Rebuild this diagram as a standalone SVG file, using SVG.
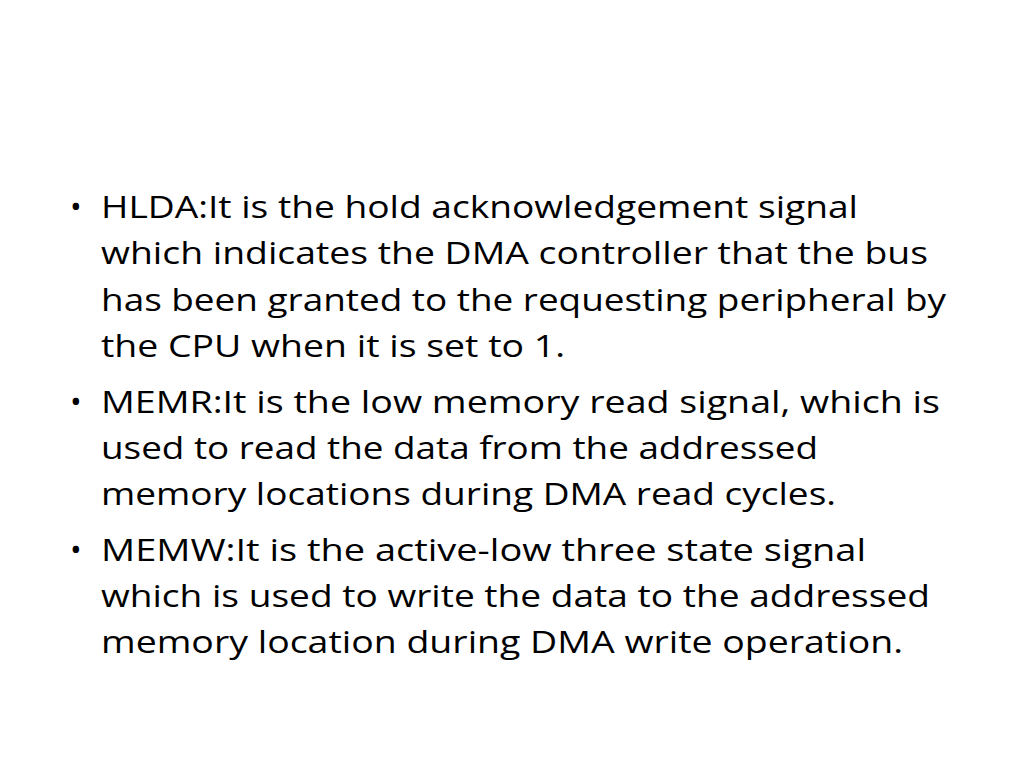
<svg xmlns="http://www.w3.org/2000/svg" width="1024" height="768" viewBox="0 0 1024 768">
<style>
text{font-family:"Open Sans","Liberation Sans",sans-serif;font-size:31px;fill:#000}
</style>
<rect width="1024" height="768" fill="#fff"/>
<g id="bullets">
<text x="70" y="218">•</text><text x="70" y="413">•</text><text x="70" y="561">•</text>
</g>
<g id="item1">
<text x="101" y="218" textLength="757" lengthAdjust="spacingAndGlyphs">HLDA:It is the hold acknowledgement signal</text>
<text x="101" y="264" textLength="827" lengthAdjust="spacingAndGlyphs">which indicates the DMA controller that the bus</text>
<text x="101" y="311" textLength="845" lengthAdjust="spacingAndGlyphs">has been granted to the requesting peripheral by</text>
<text x="101" y="357" textLength="464" lengthAdjust="spacingAndGlyphs">the CPU when it is set to 1.</text>
</g>
<g id="item2">
<text x="101" y="413" textLength="839" lengthAdjust="spacingAndGlyphs">MEMR:It is the low memory read signal, which is</text>
<text x="101" y="459" textLength="717" lengthAdjust="spacingAndGlyphs">used to read the data from the addressed</text>
<text x="101" y="505" textLength="735" lengthAdjust="spacingAndGlyphs">memory locations during DMA read cycles.</text>
</g>
<g id="item3">
<text x="101" y="561" textLength="765" lengthAdjust="spacingAndGlyphs">MEMW:It is the active-low three state signal</text>
<text x="101" y="607" textLength="829" lengthAdjust="spacingAndGlyphs">which is used to write the data to the addressed</text>
<text x="101" y="653" textLength="802" lengthAdjust="spacingAndGlyphs">memory location during DMA write operation.</text>
</g>
</svg>
